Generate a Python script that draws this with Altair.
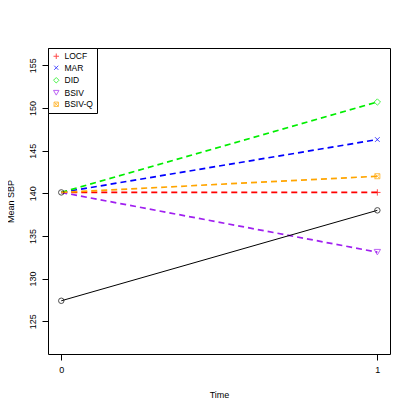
import altair as alt
import pandas as pd

# ---- data ----
series = ["LOCF", "MAR", "DID", "BSIV", "BSIV-Q"]
colors = ["#FF0000", "#0000FF", "#00EE00", "#A020F0", "#FFA500"]
shapes = [
    "M-1,0L1,0M0,-1L0,1",
    "M-0.75,-0.75L0.75,0.75M0.75,-0.75L-0.75,0.75",
    "diamond",
    "triangle-down",
    "M-0.8,-0.8L0.8,-0.8L0.8,0.8L-0.8,0.8Z M-0.8,-0.8L0.8,0.8M0.8,-0.8L-0.8,0.8",
]
times = [0, 1]
treated_baseline = 140.1
end_values = [140.1, 146.3, 150.7, 133.1, 142.0]
control_values = [127.4, 138.0]

ctrl = pd.DataFrame({"time": times, "value": control_values})
base = pd.DataFrame({"time": [0], "value": [treated_baseline]})
rows = []
for s, v in zip(series, end_values):
    rows.append({"method": s, "time": 0, "value": treated_baseline})
    rows.append({"method": s, "time": 1, "value": v})
cf = pd.DataFrame(rows)
ends = pd.DataFrame({"series": series, "time": [1] * len(series), "value": end_values})

FONT = "Liberation Sans"
xscale = alt.Scale(domain=[-0.042, 1.040], nice=False, zero=False)
yscale = alt.Scale(domain=[121.16, 157.03], nice=False, zero=False)

xax = alt.Axis(values=[0, 1], title="Time", domain=False, grid=False, tickSize=6,
               tickColor="black", labelColor="black", labelFontSize=9, labelPadding=5,
               titleFontSize=9, titleFontWeight="normal", titleColor="black",
               titlePadding=16, labelFont=FONT, titleFont=FONT, format="d")
yax = alt.Axis(values=[125, 130, 135, 140, 145, 150, 155], title="Mean SBP",
               domain=False, grid=False, tickSize=6, tickColor="black",
               labelColor="black", labelFontSize=9, labelAngle=270,
               labelPadding=5,
               titleFontSize=9, titleFontWeight="normal", titleColor="black",
               titlePadding=13, labelFont=FONT, titleFont=FONT)

X = alt.X("time:Q", scale=xscale, axis=xax)
Y = alt.Y("value:Q", scale=yscale, axis=yax)

color_scale = alt.Scale(domain=series, range=colors)
shape_scale = alt.Scale(domain=series, range=shapes)

ctrl_line = alt.Chart(ctrl).mark_line(color="black", strokeWidth=1).encode(x=X, y=Y)
ctrl_pts = alt.Chart(ctrl).mark_point(shape="circle", color="black", size=30,
                                      strokeWidth=1, filled=False).encode(x=X, y=Y)
base_pt = alt.Chart(base).mark_point(shape="circle", color="black", size=30,
                                     strokeWidth=1, filled=False).encode(x=X, y=Y)

# stroke scale: data-derived domain sorted in series order (distinct from the legend scales)
cf_lines = alt.Chart(cf).mark_line(strokeWidth=1.7, strokeDash=[6, 4]).encode(
    x=X, y=Y,
    stroke=alt.Stroke("method:N", sort=series, scale=alt.Scale(range=colors), legend=None),
    detail="method:N",
)

end_pts = alt.Chart(ends).mark_point(filled=False, size=40, strokeWidth=1).encode(
    x=X, y=Y,
    color=alt.Color("series:N", scale=color_scale, title=None),
    shape=alt.Shape("series:N", scale=shape_scale, title=None),
)

chart = alt.layer(cf_lines, ctrl_line, ctrl_pts, base_pt, end_pts).properties(
    width=342, height=306,
    autosize=alt.AutoSizeParams(type="none"),
    padding={"left": 40, "top": 40, "right": 17, "bottom": 53},
    background="white",
).configure_view(stroke="black", strokeWidth=1).configure_legend(
    orient="top-left", offset=0, strokeColor="black", fillColor="white",
    padding=4, labelFont=FONT, labelFontSize=8.5, labelColor="black",
    symbolSize=30, symbolStrokeWidth=1, rowPadding=2.5, labelOffset=4,
    cornerRadius=0,
)

chart.save("out.html", embed_options={"renderer": "svg", "actions": False})
